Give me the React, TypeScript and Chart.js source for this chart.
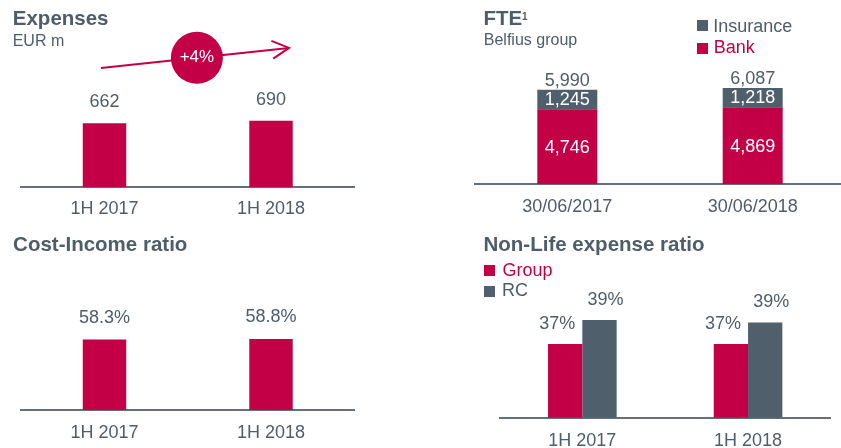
import React, { useEffect, useRef } from 'react';
import { Chart, registerables } from 'chart.js';

Chart.register(...registerables);

// ---------- data ----------
const expenseCategories = ['1H 2017', '1H 2018'];
const expenseValues = [662, 690];

const fteCategories = ['30/06/2017', '30/06/2018'];
const fteBank = [4746, 4869];
const fteInsurance = [1245, 1218];
const fteTotals = [5990, 6087];

const costIncomeCategories = ['1H 2017', '1H 2018'];
const costIncomeValues = [58.3, 58.8];

const nonLifeCategories = ['1H 2017', '1H 2018'];
const nonLifeGroup = [37.0, 37.0];
const nonLifeRC = [39.0, 38.8];

// ---------- style ----------
const FONT = "'Liberation Sans', Arial, sans-serif";
const RED = '#c30045';
const GRAY = '#4f5f6b';
const TEXT = '#4d5d69';
const AXIS = '#62717c';

Chart.defaults.font.family = FONT;

const fmtThousands = (v: number) => v.toLocaleString('en-US');

type LabelItem = {
  dataset: number;
  text: (i: number) => string;
  color: string;
  place: 'above' | 'center';
  dx?: number;
  dy?: number;
  size?: number;
};

function labelPlugin(id: string, items: LabelItem[]) {
  return {
    id,
    afterDatasetsDraw(chart: any) {
      const ctx = chart.ctx;
      items.forEach((item) => {
        const meta = chart.getDatasetMeta(item.dataset);
        meta.data.forEach((el: any, i: number) => {
          const { x, y, base } = el.getProps(['x', 'y', 'base'], true);
          const cy = item.place === 'center' ? (y + base) / 2 : y;
          ctx.save();
          ctx.font = `${item.size ?? 18}px ${FONT}`;
          ctx.fillStyle = item.color;
          ctx.textAlign = 'center';
          ctx.textBaseline = 'middle';
          ctx.fillText(item.text(i), x + (item.dx ?? 0), cy + (item.dy ?? 0));
          ctx.restore();
        });
      });
    },
  };
}

const growthArrow = {
  id: 'growthArrow',
  afterDatasetsDraw(chart: any) {
    const meta = chart.getDatasetMeta(0);
    const a = meta.data[0].getProps(['x', 'y'], true);
    const b = meta.data[1].getProps(['x', 'y'], true);
    const x0 = a.x - 3.5;
    const y0 = a.y - 55.3;
    const x1 = b.x + 18;
    const y1 = b.y - 72.7;
    const ctx = chart.ctx;
    ctx.save();
    ctx.strokeStyle = RED;
    ctx.lineWidth = 2;
    ctx.beginPath();
    ctx.moveTo(x0, y0);
    ctx.lineTo(x1, y1);
    ctx.stroke();
    const ang = Math.atan2(y1 - y0, x1 - x0);
    const len = 19;
    const spread = (28 * Math.PI) / 180;
    ctx.beginPath();
    ctx.moveTo(x1 - len * Math.cos(ang - spread), y1 - len * Math.sin(ang - spread));
    ctx.lineTo(x1, y1);
    ctx.lineTo(x1 - len * Math.cos(ang + spread), y1 - len * Math.sin(ang + spread));
    ctx.stroke();
    const t = 0.51;
    const cx = x0 + (x1 - x0) * t;
    const cy = y0 + (y1 - y0) * t;
    ctx.fillStyle = RED;
    ctx.beginPath();
    ctx.arc(cx, cy, 26, 0, Math.PI * 2);
    ctx.fill();
    const growth = Math.round((expenseValues[1] / expenseValues[0] - 1) * 100);
    ctx.fillStyle = '#ffffff';
    ctx.font = `17px ${FONT}`;
    ctx.textAlign = 'center';
    ctx.textBaseline = 'middle';
    ctx.fillText(`+${growth}%`, cx, cy);
    ctx.restore();
  },
};

function xScale(padding: number) {
  return {
    type: 'category',
    offset: true,
    z: 1,
    grid: { display: false, drawTicks: false },
    border: { display: true, color: AXIS, width: 2 },
    ticks: {
      color: TEXT,
      font: { family: FONT, size: 18 },
      padding,
      maxRotation: 0,
      autoSkip: false,
    },
  };
}

const baseOptions = {
  responsive: false,
  animation: false,
  events: [],
};
const noLegend = { legend: { display: false }, tooltip: { enabled: false } };

function expensesConfig(): any {
  return {
    type: 'bar',
    data: {
      labels: expenseCategories,
      datasets: [
        {
          data: expenseValues,
          backgroundColor: RED,
          borderWidth: 0,
          categoryPercentage: 1,
          barPercentage: 0.261,
        },
      ],
    },
    options: {
      ...baseOptions,
      layout: { padding: { left: 21.25, right: 5.75, top: 30, bottom: 8.7 } },
      plugins: noLegend,
      scales: {
        x: xScale(11.2),
        y: { display: false, min: 0, max: 1628 },
      },
    },
    plugins: [
      labelPlugin('expLabels', [
        { dataset: 0, text: (i) => String(expenseValues[i]), color: TEXT, place: 'above', dy: -21 },
      ]),
      growthArrow,
    ],
  };
}

function fteConfig(): any {
  return {
    type: 'bar',
    data: {
      labels: fteCategories,
      datasets: [
        {
          label: 'Bank',
          data: fteBank,
          backgroundColor: RED,
          borderWidth: 0,
          categoryPercentage: 1,
          barPercentage: 0.3236,
        },
        {
          label: 'Insurance',
          data: fteInsurance,
          backgroundColor: GRAY,
          borderWidth: 0,
          categoryPercentage: 1,
          barPercentage: 0.3236,
        },
      ],
    },
    options: {
      ...baseOptions,
      layout: { padding: { left: 4.6, right: 4.6, top: 60, bottom: 2.9 } },
      plugins: noLegend,
      scales: {
        x: { ...xScale(11.6), stacked: true },
        y: { display: false, stacked: true, min: 0, max: 7867 },
      },
    },
    plugins: [
      labelPlugin('fteLabels', [
        { dataset: 0, text: (i) => fmtThousands(fteBank[i]), color: '#ffffff', place: 'center', dy: 1.5 },
        { dataset: 1, text: (i) => fmtThousands(fteInsurance[i]), color: '#ffffff', place: 'center', dy: 0.5 },
        { dataset: 1, text: (i) => fmtThousands(fteTotals[i]), color: TEXT, place: 'above', dy: -9 },
      ]),
    ],
  };
}

function costIncomeConfig(): any {
  return {
    type: 'bar',
    data: {
      labels: costIncomeCategories,
      datasets: [
        {
          data: costIncomeValues,
          backgroundColor: RED,
          borderWidth: 0,
          categoryPercentage: 1,
          barPercentage: 0.261,
        },
      ],
    },
    options: {
      ...baseOptions,
      layout: { padding: { left: 21.25, right: 5.75, top: 40, bottom: 0.4 } },
      plugins: noLegend,
      scales: {
        x: xScale(12.5),
        y: { display: false, min: 0, max: 120 },
      },
    },
    plugins: [
      labelPlugin('ciLabels', [
        { dataset: 0, text: (i) => `${costIncomeValues[i].toFixed(1)}%`, color: TEXT, place: 'above', dy: -22 },
      ]),
    ],
  };
}

function nonLifeConfig(): any {
  return {
    type: 'bar',
    data: {
      labels: nonLifeCategories,
      datasets: [
        {
          label: 'Group',
          data: nonLifeGroup,
          backgroundColor: RED,
          borderWidth: 0,
          categoryPercentage: 0.414,
          barPercentage: 1,
        },
        {
          label: 'RC',
          data: nonLifeRC,
          backgroundColor: GRAY,
          borderWidth: 0,
          categoryPercentage: 0.414,
          barPercentage: 1,
        },
      ],
    },
    options: {
      ...baseOptions,
      layout: { padding: { left: 29.5, right: 9.1, top: 60, bottom: 0.7 } },
      plugins: noLegend,
      scales: {
        x: xScale(12.5),
        y: { display: false, min: 30.86, max: 41.92 },
      },
    },
    plugins: [
      labelPlugin('nlLabels', [
        { dataset: 0, text: (i) => `${Math.round(nonLifeGroup[i])}%`, color: TEXT, place: 'above', dx: -8, dy: -20 },
        { dataset: 1, text: (i) => `${Math.round(nonLifeRC[i])}%`, color: TEXT, place: 'above', dx: 6, dy: -20 },
      ]),
    ],
  };
}

function ChartCanvas(props: { config: () => any; left: number; top: number; width: number; height: number }) {
  const ref = useRef<HTMLCanvasElement>(null);
  useEffect(() => {
    const chart = new Chart(ref.current as HTMLCanvasElement, props.config());
    return () => chart.destroy();
  }, []);
  return (
    <canvas
      ref={ref}
      width={props.width}
      height={props.height}
      style={{
        position: 'absolute',
        left: props.left,
        top: props.top,
        width: props.width,
        height: props.height,
        display: 'block',
      }}
    />
  );
}

function Txt(props: {
  left: number;
  top: number;
  size: number;
  bold?: boolean;
  color?: string;
  children: React.ReactNode;
}) {
  return (
    <div
      style={{
        position: 'absolute',
        left: props.left,
        top: props.top,
        fontSize: props.size,
        lineHeight: `${props.size}px`,
        fontWeight: props.bold ? 700 : 400,
        color: props.color ?? TEXT,
        whiteSpace: 'nowrap',
        fontFamily: FONT,
      }}
    >
      {props.children}
    </div>
  );
}

function Swatch(props: { left: number; top: number; color: string }) {
  return (
    <div
      style={{
        position: 'absolute',
        left: props.left,
        top: props.top,
        width: 11,
        height: 11,
        background: props.color,
      }}
    />
  );
}

export default function App() {
  return (
    <div
      style={{
        position: 'fixed',
        left: 0,
        top: 0,
        width: 841,
        height: 448,
        overflow: 'hidden',
        background: '#ffffff',
        fontFamily: FONT,
      }}
    >
      <ChartCanvas config={expensesConfig} left={0} top={0} width={360} height={240} />
      <ChartCanvas config={fteConfig} left={470} top={0} width={380} height={232} />
      <ChartCanvas config={costIncomeConfig} left={0} top={225} width={360} height={232} />
      <ChartCanvas config={nonLifeConfig} left={470} top={225} width={370} height={240} />

      <Txt left={12.8} top={7.6} size={20.5} bold>
        Expenses
      </Txt>
      <Txt left={12.7} top={32.5} size={16}>
        EUR m
      </Txt>

      <Txt left={483.5} top={7.6} size={20.5} bold>
        FTE
      </Txt>
      <Txt left={522} top={12} size={10} bold>
        1
      </Txt>
      <Txt left={483.8} top={31.5} size={16}>
        Belfius group
      </Txt>
      <Swatch left={697} top={20} color={GRAY} />
      <Txt left={713.3} top={16.5} size={18} color={TEXT}>
        Insurance
      </Txt>
      <Swatch left={697} top={42.5} color={RED} />
      <Txt left={713.7} top={38.1} size={18} color={RED}>
        Bank
      </Txt>

      <Txt left={13.1} top={233.6} size={20.5} bold>
        Cost-Income ratio
      </Txt>

      <Txt left={483.5} top={233.6} size={20.5} bold>
        Non-Life expense ratio
      </Txt>
      <Swatch left={484} top={265} color={RED} />
      <Txt left={502.4} top={261.4} size={18} color={RED}>
        Group
      </Txt>
      <Swatch left={484} top={286} color={GRAY} />
      <Txt left={501.9} top={281.4} size={18} color={TEXT}>
        RC
      </Txt>
    </div>
  );
}
